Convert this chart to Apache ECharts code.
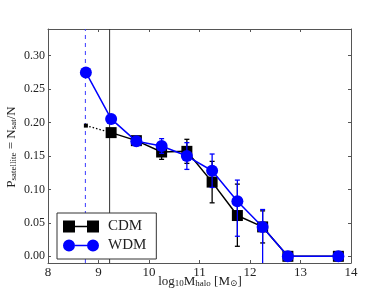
<!DOCTYPE html>
<html>
<head>
<meta charset="utf-8">
<script src="https://cdn.jsdelivr.net/npm/echarts@6/dist/echarts.min.js"></script>
<style>
html,body{margin:0;padding:0;background:#fff;}
#chart{width:390px;height:293px;}
</style>
</head>
<body>
<div id="chart"></div>
<script>
// ---- data ----
const cdmX = [9.25, 9.75, 10.25, 10.75, 11.25, 11.75, 12.25, 12.75, 13.75];
const cdmY = [0.185, 0.173, 0.156, 0.157, 0.111, 0.061, 0.044, 0.0, 0.0];
const cdmErrLow = [0.185, 0.170, 0.145, 0.139, 0.080, 0.015, 0.020, 0.0, 0.0];
const cdmErrHigh = [0.185, 0.176, 0.167, 0.175, 0.142, 0.108, 0.068, 0.0, 0.0];

const cdmExtX = [8.75, 9.25];
const cdmExtY = [0.1955, 0.185];

const wdmX = [8.75, 9.25, 9.75, 10.25, 10.75, 11.25, 11.75, 12.25, 12.75, 13.75];
const wdmY = [0.275, 0.2055, 0.172, 0.165, 0.150, 0.128, 0.0825, 0.0437, 0.0, 0.0];
const wdmErrLow = [0.275, 0.2055, 0.168, 0.154, 0.130, 0.103, 0.030, -0.03, 0.0, 0.0];
const wdmErrHigh = [0.275, 0.2055, 0.176, 0.176, 0.170, 0.153, 0.114, 0.070, 0.0, 0.0];

const cdmLimit = 9.22;
const wdmLimit = 8.74;

const xRange = [8, 14];
const yRange = [-0.01, 0.34];
const yTicks = [0.00, 0.05, 0.10, 0.15, 0.20, 0.25, 0.30];

const xTitle = '{t|log}{s|10}{t|M}{s|halo}{t| [M}{s|⊙}{t|]}';
const yTitle = '{t|P}{s|satellite}{t| = N}{s|sat}{t|/N}';

// ---- build ----
const zip = (xs, ys) => xs.map((x, i) => [x, ys[i]]);
const errData = (xs, lo, hi) => xs.map((x, i) => [x, lo[i], hi[i]]);
const vline = x => [[x, yRange[0]], [x, yRange[1]]];

function errRender(color) {
  return function (params, api) {
    const x = api.value(0);
    const p1 = api.coord([x, api.value(1)]);
    const p2 = api.coord([x, api.value(2)]);
    if (Math.abs(p1[1] - p2[1]) < 0.5) return null;
    const cap = 2.5;
    const st = { stroke: color, lineWidth: 1.3 };
    return {
      type: 'group',
      children: [
        { type: 'line', shape: { x1: p1[0], y1: p1[1], x2: p2[0], y2: p2[1] }, style: st },
        { type: 'line', shape: { x1: p1[0] - cap, y1: p1[1], x2: p1[0] + cap, y2: p1[1] }, style: st },
        { type: 'line', shape: { x1: p2[0] - cap, y1: p2[1], x2: p2[0] + cap, y2: p2[1] }, style: st }
      ]
    };
  };
}

const serif = "'Liberation Serif', 'DejaVu Serif', serif";
const txt = '#222';
const axisCol = '#555';

const sqIcon = 'path://M0,0h12v12h-12z M12,5.2h12v1.6h-12z M24,0h12v12h-12z';
const ciIcon = 'path://M0,6a6,6 0 1,0 12,0a6,6 0 1,0 -12,0z M12,5.3h12v1.4h-12z M24,6a6,6 0 1,0 12,0a6,6 0 1,0 -12,0z';

const richName = {
  t: { fontFamily: serif, fontSize: 13, fill: txt, color: txt, lineHeight: 15 },
  s: { fontFamily: serif, fontSize: 9, fill: txt, color: txt, lineHeight: 15, padding: [3, 0, 0, 0] }
};

const xAxisBase = {
  type: 'value', min: xRange[0], max: xRange[1], interval: 1,
  axisLine: { show: true, onZero: false, lineStyle: { color: axisCol, width: 1 } },
  axisTick: { show: true, inside: true, length: 3, lineStyle: { color: axisCol } },
  splitLine: { show: false }
};
const yAxisBase = {
  type: 'value', min: yRange[0], max: yRange[1],
  axisLine: { show: true, onZero: false, lineStyle: { color: axisCol, width: 1 } },
  axisTick: { show: true, inside: true, length: 3, customValues: yTicks, lineStyle: { color: axisCol } },
  splitLine: { show: false }
};

const option = {
  animation: false,
  backgroundColor: '#fff',
  grid: { left: 48, right: 39, top: 29, bottom: 30, containLabel: false, outerBoundsMode: 'none' },
  graphic: [
    {
      type: 'text', x: 200, y: 282, z: 10,
      style: { text: xTitle, rich: richName, align: 'center', verticalAlign: 'middle' }
    },
    {
      type: 'text', x: 12, y: 147, rotation: Math.PI / 2, z: 10,
      style: { text: yTitle, rich: richName, align: 'center', verticalAlign: 'middle' }
    }
  ],
  xAxis: [
    Object.assign({}, xAxisBase, {
      position: 'bottom',
      axisLabel: { color: txt, fontFamily: serif, fontSize: 13, margin: 3 }
    }),
    Object.assign({}, xAxisBase, { position: 'top', axisLabel: { show: false } })
  ],
  yAxis: [
    Object.assign({}, yAxisBase, {
      position: 'left',
      axisLabel: { color: txt, fontFamily: serif, fontSize: 12, margin: 3, customValues: yTicks,
        formatter: v => v.toFixed(2) }
    }),
    Object.assign({}, yAxisBase, { position: 'right', axisLabel: { show: false } })
  ],
  legend: {
    left: 57, top: 213, orient: 'vertical',
    backgroundColor: '#fff', borderColor: '#333', borderWidth: 1, borderRadius: 0,
    padding: [6, 10, 6, 6], itemWidth: 36, itemHeight: 12, itemGap: 4,
    textStyle: { fontFamily: serif, fontSize: 15, color: txt, padding: [0, 0, 0, 4] },
    data: [
      { name: 'CDM', icon: sqIcon },
      { name: 'WDM', icon: ciIcon }
    ]
  },
  series: [
    {
      name: 'cdm limit', type: 'line', data: vline(cdmLimit), silent: true, z: 1,
      symbol: 'none', lineStyle: { color: '#333', width: 1, type: 'solid' }
    },
    {
      name: 'wdm limit', type: 'line', data: vline(wdmLimit), silent: true, z: 1,
      symbol: 'none', lineStyle: { color: '#3a3aff', width: 1, type: [4, 4] }
    },
    {
      name: 'CDM ext', type: 'line', data: zip(cdmExtX, cdmExtY), z: 2,
      symbol: 'rect', symbolSize: [4, 4], showSymbol: true,
      itemStyle: { color: '#000' },
      lineStyle: { color: '#000', width: 1.3, type: [1.5, 2] }
    },
    {
      name: 'CDM', type: 'line', data: zip(cdmX, cdmY), z: 3,
      symbol: 'rect', symbolSize: 11,
      itemStyle: { color: '#000' },
      lineStyle: { color: '#000', width: 1.5 }
    },
    {
      name: 'CDM err', type: 'custom', z: 3, clip: true,
      renderItem: errRender('#000'),
      encode: { x: 0, y: [1, 2] },
      data: errData(cdmX, cdmErrLow, cdmErrHigh)
    },
    {
      name: 'WDM', type: 'line', data: zip(wdmX, wdmY), z: 4,
      symbol: 'circle', symbolSize: 12,
      itemStyle: { color: '#0000ff' },
      lineStyle: { color: '#0000ff', width: 1.5 }
    },
    {
      name: 'WDM err', type: 'custom', z: 4, clip: true,
      renderItem: errRender('#0000ff'),
      encode: { x: 0, y: [1, 2] },
      data: errData(wdmX, wdmErrLow, wdmErrHigh)
    }
  ]
};

const chart = echarts.init(document.getElementById('chart'), null, { renderer: 'canvas' });
chart.setOption(option);
</script>
</body>
</html>
